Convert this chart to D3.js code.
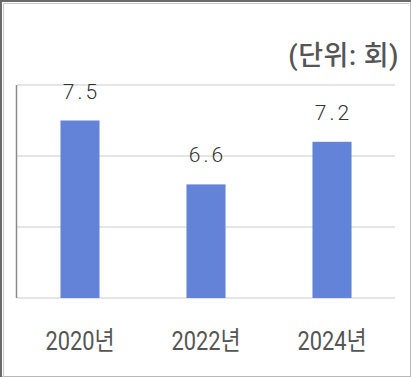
<!DOCTYPE html>
<html>
<head>
<meta charset="utf-8">
<script src="https://cdn.jsdelivr.net/npm/d3@7"></script>
<style>
  html, body { margin: 0; padding: 0; background: #fff; }
  svg { display: block; }
</style>
</head>
<body>
<svg id="chart"></svg>
<script>
const years = ["2020년", "2022년", "2024년"];
const values = [7.5, 6.6, 7.2];
const valueLabels = ["7.5", "6.6", "7.2"];
const gridTicks = [5, 6, 7, 8];
const unitText = "(단위: 회)";

const width = 411, height = 377;
const svg = d3.select("#chart").attr("width", width).attr("height", height);

// frame
svg.append("rect")
  .attr("x", 0.5).attr("y", 0.5)
  .attr("width", width - 1).attr("height", height - 1)
  .attr("fill", "#fff").attr("stroke", "#b8b8b8").attr("stroke-width", 1);
svg.append("path")
  .attr("d", `M1,${height} V1 H${width}`)
  .attr("fill", "none").attr("stroke", "#6a6a6a").attr("stroke-width", 2);
svg.append("path")
  .attr("d", `M3.5,${height} V3.5 H${width - 2}`)
  .attr("fill", "none").attr("stroke", "#c8c8c8").attr("stroke-width", 1);

const x = d3.scaleBand()
  .domain(years)
  .range([17, 395])
  .paddingInner(0.69)
  .paddingOuter(0.345);

const y = d3.scaleLinear()
  .domain([5, 8])
  .range([298, 85]);

// gridlines
svg.append("g")
  .selectAll("line")
  .data(gridTicks)
  .enter().append("line")
  .attr("x1", 17).attr("x2", 395)
  .attr("y1", d => y(d)).attr("y2", d => y(d))
  .attr("stroke", "#dcdcdc")
  .attr("stroke-width", 1.5);

// left axis line
svg.append("line")
  .attr("x1", 16.5).attr("x2", 16.5)
  .attr("y1", y(8)).attr("y2", y(5))
  .attr("stroke", "#8a8a8a")
  .attr("stroke-width", 1.5);

// bars
svg.append("g")
  .selectAll("rect")
  .data(values)
  .enter().append("rect")
  .attr("x", (d, i) => x(years[i]))
  .attr("y", d => y(d))
  .attr("width", x.bandwidth())
  .attr("height", d => y(5) - y(d))
  .attr("fill", "#6283d7");

// value labels
svg.append("g")
  .selectAll("text")
  .data(values)
  .enter().append("text")
  .attr("x", (d, i) => x(years[i]) + x.bandwidth() / 2 + 1.5)
  .attr("y", d => y(d) - 22)
  .attr("text-anchor", "middle")
  .attr("font-family", "Roboto, 'Noto Sans CJK KR', sans-serif")
  .attr("font-weight", 300)
  .attr("font-size", 21)
  .attr("letter-spacing", 3)
  .attr("fill", "#333")
  .text((d, i) => valueLabels[i]);

// category labels (glyphs narrower than the font, squeezed horizontally)
svg.append("g")
  .selectAll("text")
  .data(years)
  .enter().append("text")
  .attr("transform", d => `translate(${x(d) + x.bandwidth() / 2},350) scale(0.84,1)`)
  .attr("text-anchor", "middle")
  .attr("font-family", "Roboto, 'Noto Sans CJK KR', sans-serif")
  .attr("font-size", 26)
  .attr("fill", "#555")
  .text(d => d);

// unit
svg.append("text")
  .attr("x", 399)
  .attr("y", 65)
  .attr("text-anchor", "end")
  .attr("font-family", "Roboto, 'Noto Sans CJK KR', sans-serif")
  .attr("font-weight", 500)
  .attr("font-size", 27)
  .attr("letter-spacing", 0.5)
  .attr("fill", "#555")
  .text(unitText);
</script>
</body>
</html>
